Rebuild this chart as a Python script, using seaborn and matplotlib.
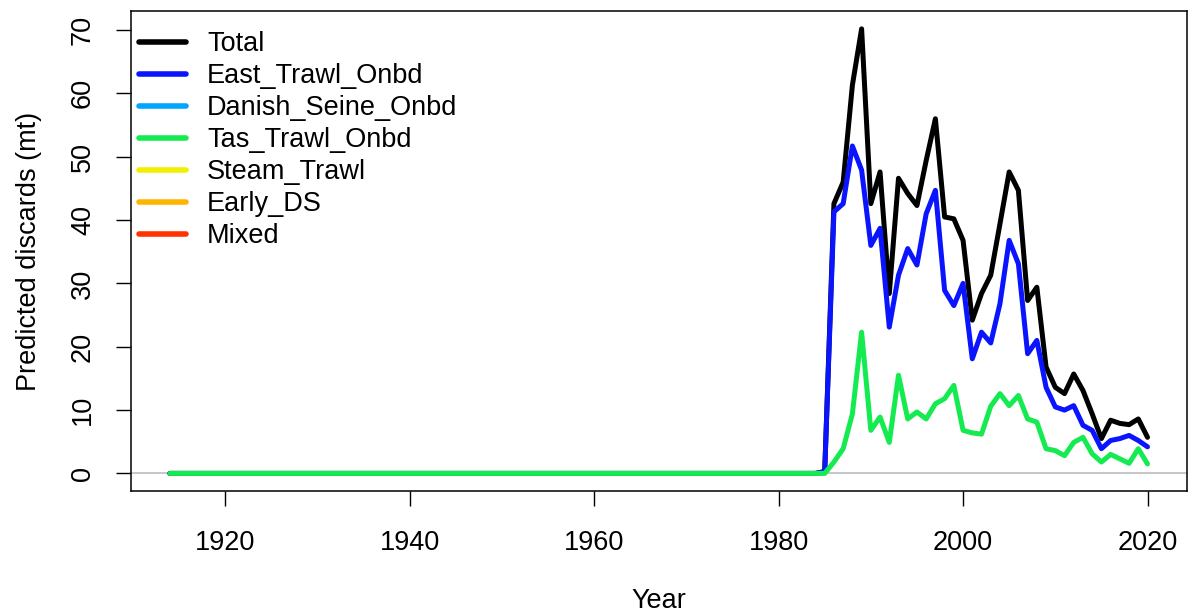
import numpy as np
import pandas as pd
import matplotlib
matplotlib.use("Agg")
import matplotlib.pyplot as plt
from matplotlib.lines import Line2D
import seaborn as sns

years = list(range(1914, 2021))

# Values from 1985 onward (earlier years are zero)
years_recent = list(range(1985, 2021))
east_trawl = [0.3, 41.3, 42.6, 51.7, 47.9, 36.0, 38.7, 23.1, 31.3, 35.5, 32.9, 41.0,
              44.7, 28.9, 26.5, 30.0, 18.1, 22.3, 20.6, 26.8, 36.8, 33.1, 18.9, 21.0,
              13.6, 10.5, 10.0, 10.7, 7.6, 6.8, 3.9, 5.2, 5.5, 6.0, 5.2, 4.2]
tas_trawl = [0.0, 1.8, 3.9, 9.4, 22.3, 6.8, 8.9, 4.9, 15.5, 8.6, 9.7, 8.6,
             11.0, 11.8, 13.9, 6.8, 6.4, 6.2, 10.6, 12.6, 10.7, 12.3, 8.6, 8.1,
             3.9, 3.6, 2.8, 4.9, 5.7, 3.1, 1.8, 3.0, 2.3, 1.6, 3.9, 1.5]
total = [0.3, 42.6, 46.0, 61.3, 70.2, 42.6, 47.6, 28.4, 46.6, 44.2, 42.3, 49.4,
         56.0, 40.5, 40.2, 36.8, 24.2, 28.4, 31.3, 39.4, 47.6, 44.7, 27.3, 29.4,
         16.8, 13.6, 12.6, 15.7, 13.1, 9.4, 5.5, 8.4, 7.9, 7.7, 8.6, 5.7]

series_names = ["Total", "East_Trawl_Onbd", "Danish_Seine_Onbd", "Tas_Trawl_Onbd",
                "Steam_Trawl", "Early_DS", "Mixed"]
series_colors = ["#000000", "#0A14FF", "#00A5FF", "#14EB50",
                 "#F0F000", "#FFB400", "#FF3300"]
plotted = ["Total", "East_Trawl_Onbd", "Tas_Trawl_Onbd"]

n_early = len(years) - len(years_recent)
values = {
    "Total": [0.0] * n_early + total,
    "East_Trawl_Onbd": [0.0] * n_early + east_trawl,
    "Tas_Trawl_Onbd": [0.0] * n_early + tas_trawl,
}

sns.set_theme(style="white")
plt.rcParams["font.family"] = ["Liberation Sans", "DejaVu Sans"]
plt.rcParams["text.color"] = "black"
plt.rcParams["axes.labelcolor"] = "black"
plt.rcParams["xtick.color"] = "black"
plt.rcParams["ytick.color"] = "black"

fig = plt.figure(figsize=(11.89, 6.14), dpi=100)
ax = fig.add_axes([0.110, 0.200, 0.888, 0.782])

ax.axhline(0, color="#BEBEBE", lw=1.2, zorder=1)
pal = dict(zip(series_names, series_colors))
for i, s in enumerate(plotted):
    d = pd.DataFrame({"Year": years, "value": values[s]})
    sns.lineplot(data=d, x="Year", y="value", color=pal[s], lw=3.6, ax=ax,
                 zorder=3 + i, solid_capstyle="round", solid_joinstyle="round")

ymax = max(total)
ax.set_xlim(1914 - 0.04 * 106, 2020 + 0.04 * 106)
ax.set_ylim(-0.04 * ymax, 1.04 * ymax)
ax.set_xticks([1920, 1940, 1960, 1980, 2000, 2020])
ax.set_yticks(list(range(0, 71, 10)))
ax.tick_params(axis="both", which="both", direction="out", length=11,
               width=1.0, color="black", labelcolor="black", labelsize=19.5,
               left=True, bottom=True)
ax.tick_params(axis="x", pad=17)
ax.tick_params(axis="y", pad=14)
for lab in ax.get_yticklabels():
    lab.set_rotation(90)
    lab.set_va("center")

for sp in ax.spines.values():
    sp.set_color("black")
    sp.set_linewidth(1.1)
    sp.set_visible(True)

ax.set_xlabel("Year", fontsize=19.5, labelpad=23, color="black")
ax.set_ylabel("Predicted discards (mt)", fontsize=19.5, labelpad=20, color="black")

handles = [Line2D([], [], color=c, lw=4) for c in series_colors]
ax.legend(handles, series_names, loc="upper left", frameon=False,
          fontsize=19.5, handlelength=1.7, handletextpad=0.8,
          labelspacing=0.22, borderaxespad=0.0, bbox_to_anchor=(-0.011, 1.0),
          borderpad=0.75, labelcolor="black")

fig.savefig("out.png", dpi=100)
